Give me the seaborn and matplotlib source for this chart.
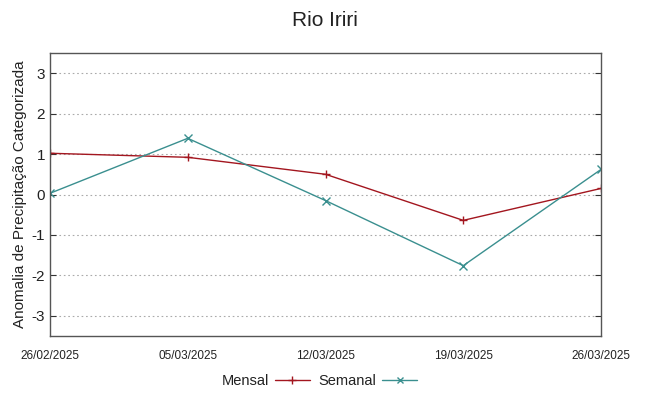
import matplotlib
matplotlib.use("Agg")
import matplotlib.pyplot as plt
import seaborn as sns
import pandas as pd
import numpy as np

dates = ["26/02/2025", "05/03/2025", "12/03/2025", "19/03/2025", "26/03/2025"]
mensal = [1.02, 0.92, 0.50, -0.64, 0.15]
semanal = [0.03, 1.39, -0.15, -1.76, 0.62]
yticks = [-3, -2, -1, 0, 1, 2, 3]

sns.set_style("white")
plt.rcParams['font.family'] = ['Liberation Sans', 'DejaVu Sans']
plt.rcParams['text.color'] = '#222222'
plt.rcParams['xtick.color'] = '#222222'
plt.rcParams['ytick.color'] = '#222222'
plt.rcParams['axes.labelcolor'] = '#222222'

x = pd.to_datetime(dates, format="%d/%m/%Y")
df = pd.DataFrame({"Data": list(x) * 2,
                   "Valor": mensal + semanal,
                   "Serie": ["Mensal"] * 5 + ["Semanal"] * 5})

fig = plt.figure(figsize=(6.49, 3.96), dpi=100)
ax = fig.add_axes([50/649, 1 - 336/396, (601-50)/649, (336-53)/396])

colors = {"Mensal": "#a3161f", "Semanal": "#3a8f8f"}
markers = {"Mensal": "+", "Semanal": "x"}
sns.lineplot(data=df, x="Data", y="Valor", hue="Serie", style="Serie",
             palette=colors, markers=markers, dashes=False, ax=ax,
             linewidth=1.0, markersize=6, legend=False)
for ln in ax.lines:
    ln.set_markeredgecolor(ln.get_color())
    ln.set_markeredgewidth(1.0)

ax.set_xlim(x[0], x[-1])
ax.set_ylim(-3.5, 3.5)
ax.set_yticks(yticks)
ax.set_yticklabels([str(v) for v in yticks], fontsize=11)
ax.set_xticks(x)
ax.set_xticklabels(dates, fontsize=8.5)
ax.tick_params(axis='x', direction='in', length=4, pad=10, color='#333333')
ax.tick_params(axis='y', direction='in', length=4, left=True, right=True, color='#333333')
for v in yticks:
    ax.axhline(v, color='#aaaaaa', linestyle=(0, (1.5, 2.5)), linewidth=0.8, zorder=0)
for s in ax.spines.values():
    s.set_color('#555555')
    s.set_linewidth(1.0)
ax.set_xlabel("")
ax.set_ylabel("Anomalia de Precipitação Categorizada", fontsize=11)
ax.yaxis.set_label_coords(-0.042, 0.5)
fig.text(0.5, 1 - 20/396, "Rio Iriri", ha='center', va='center', fontsize=15)

from matplotlib.lines import Line2D
handles = [Line2D([], [], color=colors["Mensal"], marker="+", lw=1.0, markersize=6),
           Line2D([], [], color=colors["Semanal"], marker="x", lw=1.0, markersize=5)]
leg = fig.legend(handles, ["Mensal", "Semanal"], loc='center', bbox_to_anchor=(0.492, 1 - 381/396),
                 ncol=2, frameon=False, fontsize=10.5, handlelength=2.4, columnspacing=0.6,
                 handletextpad=0.4, markerfirst=False)

fig.savefig("out.png", dpi=100)
